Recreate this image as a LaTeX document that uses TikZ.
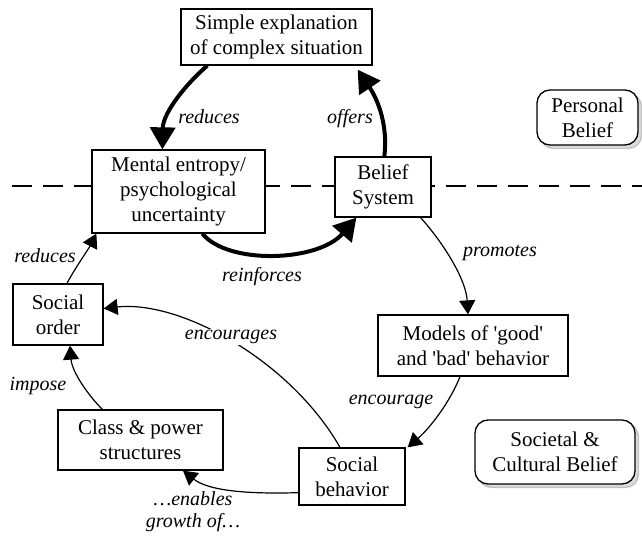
\documentclass[tikz,border=0pt]{standalone}
\usepackage{fontspec}
\setmainfont{Liberation Serif}
\usetikzlibrary{arrows.meta,shadows,calc}
\begin{document}
\begin{tikzpicture}[x=1pt,y=-1pt,
  box/.style={draw=black,line width=1.3pt,fill=white,inner sep=0pt,align=center,
    font=\fontsize{21}{25}\selectfont},
  roundbox/.style={box,rounded corners=13pt,
    drop shadow={shadow xshift=3.5pt,shadow yshift=-3.5pt,fill=gray!55,draw=gray!80}},
  lbl/.style={font=\fontsize{20}{22}\selectfont\itshape,inner sep=1pt},
  thickarr/.style={line width=4pt,-{Triangle[length=22pt,width=25pt]}},
  thinarr/.style={line width=1.2pt,-{Triangle[length=14pt,width=16pt]}}
]
\useasboundingbox (0,0) rectangle (642,537);
\coordinate (dl) at (12,186);
\coordinate (dr) at (642,186);
\draw[line width=1.2pt,dash pattern=on 20pt off 11pt] (dl) -- (dr);

\node[box,minimum width=191pt,minimum height=56pt] (simple) at (276.5,37) {Simple explanation\\of complex situation};
\node[box,minimum width=173pt,minimum height=83pt] (mental) at (178.5,191.5) {Mental entropy/\\psychological\\uncertainty};
\node[box,minimum width=96pt,minimum height=60pt] (belief) at (383,187) {Belief\\System};
\node[box,minimum width=90pt,minimum height=61pt] (order) at (58,314.5) {Social\\order};
\node[box,minimum width=165pt,minimum height=60pt] (class) at (140.5,440) {Class \& power\\structures};
\node[box,minimum width=106pt,minimum height=57pt] (behav) at (352,476.5) {Social\\behavior};
\node[box,minimum width=190pt,minimum height=61pt] (models) at (473,345.5) {Models of \textquotesingle good\textquotesingle\\and \textquotesingle bad\textquotesingle{} behavior};
\node[roundbox,minimum width=101pt,minimum height=55pt] (personal) at (587.5,117.5) {Personal\\Belief};
\node[roundbox,minimum width=160pt,minimum height=64pt] (societal) at (555,452) {Societal \&\\Cultural Belief};

% thick loop
\draw[thickarr] ([xshift=27pt]simple.south west) .. controls (188,82) and (163,112) .. ([xshift=71pt]mental.north west);
\draw[thickarr] ([xshift=50pt]belief.north west) .. controls (388,125) and (378,100) .. ([xshift=-15pt,yshift=-4pt]simple.south east);
\draw[thickarr] ([xshift=111pt]mental.south west) .. controls (228,265) and (318,262) .. ([xshift=22pt]belief.south west);

% thin loop
\draw[thinarr] ([xshift=-11pt]belief.south east) .. controls (445,245) and (466,280) .. ([xshift=-5pt]models.north);
\draw[thinarr] ([xshift=-13pt]models.south) .. controls (450,402) and (430,428) .. ([xshift=2pt]behav.north east);
\draw[thinarr] ([xshift=-12pt]behav.north) .. controls (290,360) and (180,300) .. ([yshift=6pt]order.east);
\draw[thinarr] ([yshift=13pt]behav.south west) .. controls (255,494) and (210,492) .. ([xshift=42.5pt]class.south);
\draw[thinarr] ([xshift=45pt]class.north west) .. controls (88,395) and (72,372) .. ([xshift=12pt]order.south);
\draw[thinarr] ([xshift=9pt]order.north) .. controls (75,268) and (88,250) .. ([xshift=5pt]mental.south west);

% labels
\node[lbl] (lreduces) at (209,117) {reduces};
\node[lbl] (loffers) at (350,119) {offers};
\node[lbl] (lreinf) at (262,277) {reinforces};
\node[lbl] (lprom) at (500,253) {promotes};
\node[lbl] (lenc) at (391,402) {encourage};
\node[lbl,fill=white] (lencs) at (231,337) {encourages};
\node[lbl] (limpose) at (38,386) {impose};
\node[lbl] (lred2) at (45,256) {reduces};
\node[lbl,align=center,font=\fontsize{20}{22}\selectfont\itshape] (lenab) at (193,512) {\ldots enables\\growth of\ldots};
\end{tikzpicture}
\end{document}
